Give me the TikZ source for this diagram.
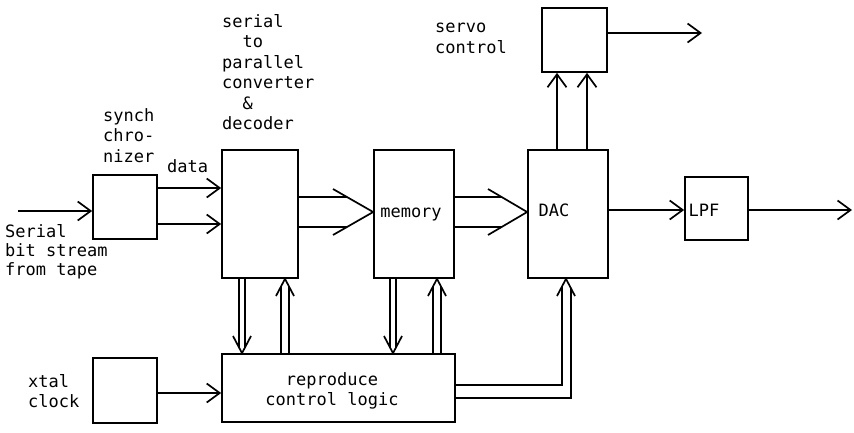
\documentclass[tikz,border=0pt]{standalone}
\usepackage{fontspec}
\setmonofont{DejaVu Sans Mono}
\usetikzlibrary{arrows.meta}
\begin{document}
\begin{tikzpicture}[x=1pt,y=-1pt,
  every node/.style={font=\ttfamily\fontsize{17}{20.5}\selectfont, inner sep=0pt},
  blk/.style={draw, line width=1.7pt},
  lbl/.style={anchor=north west, align=left},
  arr/.style={line width=1.7pt, -{Straight Barb[length=13pt,width=19pt]}},
  bus/.style={line width=1.7pt, line join=miter}]
\fill[white] (0,0) rectangle (854,432);
\useasboundingbox (0,0) rectangle (854,432);

% blocks
\node[blk, minimum width=64pt, minimum height=64pt] (synch) at (125,207) {};
\node[blk, minimum width=76pt, minimum height=128pt] (dec) at (260,214) {};
\node[blk, minimum width=80pt, minimum height=128pt] (mem) at (414,214) {};
\node[blk, minimum width=80pt, minimum height=128pt] (dac) at (568,214) {};
\node[blk, minimum width=65pt, minimum height=64pt] (servo) at (574.5,40) {};
\node[blk, minimum width=63pt, minimum height=63pt] (lpf) at (716.5,208.5) {};
\node[blk, minimum width=233pt, minimum height=68pt] (logic) at (338.5,388) {};
\node[blk, minimum width=64pt, minimum height=65pt] (xtal) at (125,390.5) {};

% texts
\node[lbl] (tdec) at (222,12.6) {\strut serial\\\hphantom{xx}to\\parallel\\converter\\\hphantom{xx}\&\\decoder};
\node[lbl] (tsynch) at (103,106.6) {\strut synch\\chro-\\nizer};
\node[lbl] (tdata) at (167,157.6) {\strut data};
\node[lbl, font=\ttfamily\fontsize{17}{19}\selectfont] (tser) at (5,223.7) {\strut Serial\\bit stream\\from tape};
\node[lbl] (txtal) at (28,372.6) {\strut xtal\\clock};
\node[lbl, font=\ttfamily\fontsize{17}{21}\selectfont] (tservo) at (435,17.6) {\strut servo\\control};
\node[anchor=base] (tmem) at (411,217) {memory};
\node[anchor=base] (tdac) at (554,216) {DAC};
\node[anchor=base] (tlpf) at (704,216) {LPF};
\node[anchor=north, align=center] (tlogic) at (332,370.6) {\strut reproduce\\control logic};

% single arrows
\coordinate (src) at (18,211);
\draw[arr] (src) -- (synch.west |- src);
\draw[arr] (synch.east |- 0,188) -- (dec.west |- 0,188);
\draw[arr] (synch.east |- 0,224) -- (dec.west |- 0,224);
\draw[arr] (557,0 |- dac.north) -- (557,0 |- servo.south);
\draw[arr] (587,0 |- dac.north) -- (587,0 |- servo.south);
\coordinate (sout) at (702,33);
\draw[arr] (servo.east |- sout) -- (sout);
\draw[arr] (dac.east |- 0,210) -- (lpf.west |- 0,210);
\coordinate (lout) at (852,210);
\draw[arr] (lpf.east |- lout) -- (lout);
\draw[arr] (xtal.east |- 0,393) -- (logic.west |- 0,393);

% bus decoder -> memory
\draw[bus] (dec.east |- 0,197) -- (347.3,197);
\draw[bus] (dec.east |- 0,227) -- (347.3,227);
\draw[bus] (333,189) -- (mem.west |- 0,212) -- (333,235);
% bus memory -> DAC
\draw[bus] (mem.east |- 0,197) -- (502,197);
\draw[bus] (mem.east |- 0,227) -- (502,227);
\draw[bus] (488,189) -- (dac.west |- 0,212) -- (488,235);

% decoder <-> logic
\draw[bus] (239,0 |- dec.south) -- (239,348);
\draw[bus] (245,0 |- dec.south) -- (245,348);
\draw[bus] (233,336) -- (242,0 |- logic.north) -- (251,336);
\draw[bus] (281,0 |- logic.north) -- (281,286);
\draw[bus] (289,0 |- logic.north) -- (289,286);
\draw[bus] (276,296) -- (285,0 |- dec.south) -- (294,296);

% memory <-> logic
\draw[bus] (390,0 |- mem.south) -- (390,348);
\draw[bus] (396,0 |- mem.south) -- (396,348);
\draw[bus] (384,336) -- (393,0 |- logic.north) -- (402,336);
\draw[bus] (433,0 |- logic.north) -- (433,286);
\draw[bus] (441,0 |- logic.north) -- (441,286);
\draw[bus] (428,296) -- (437,0 |- mem.south) -- (446,296);

% logic -> DAC
\draw[bus] (logic.east |- 0,385) -- (562,385) -- (562,286);
\draw[bus] (logic.east |- 0,398) -- (571,398) -- (571,288);
\draw[bus] (557,296) -- (566,0 |- dac.south) -- (575,296);
\end{tikzpicture}
\end{document}
